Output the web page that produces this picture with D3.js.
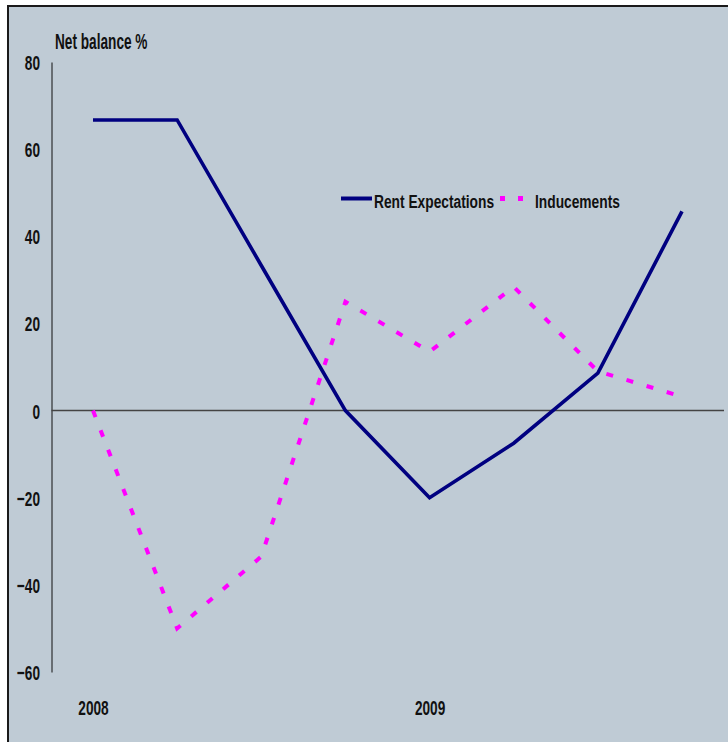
<!DOCTYPE html>
<html><head><meta charset="utf-8">
<script src="https://cdn.jsdelivr.net/npm/d3@7"></script>
<style>
html,body{margin:0;padding:0;background:#fff;}
svg{display:block;}
text{font-family:"Liberation Sans",Arial,sans-serif;font-weight:bold;fill:#111;}
</style></head>
<body>
<svg id="chart" width="728" height="742"></svg>
<script>
const categories = ["Q1 2008","Q2 2008","Q3 2008","Q4 2008","Q1 2009","Q2 2009","Q3 2009","Q4 2009"];
const rentExpectations = [66.7, 66.7, 33.3, 0, -20, -7.5, 8.6, 45.7];
const inducements = [0, -50, -33.5, 25, 13.5, 28.4, 9, 3.2];
const yTicks = [-60, -40, -20, 0, 20, 40, 60, 80];
const xTickLabels = [{cat:"Q1 2008", label:"2008"}, {cat:"Q1 2009", label:"2009"}];
const seriesNames = ["Rent Expectations", "Inducements"];

const SX = 0.65;
const SXL = 0.725;
const svg = d3.select("#chart");

svg.append("rect").attr("x",8).attr("y",6).attr("width",760).attr("height",760)
  .attr("fill","#BFCBD5").attr("stroke","#1a1a1a").attr("stroke-width",2);

const x = d3.scalePoint().domain(categories).range([93, 682]);
const y = d3.scaleLinear().domain([-60, 80]).range([672, 62]);

// y axis
const yAxis = svg.append("g").attr("transform","translate(51.5,0)")
  .call(d3.axisLeft(y).tickValues(yTicks).tickSize(0).tickPadding(11).tickFormat(d3.format("d")));
yAxis.select(".domain").attr("stroke","#111").attr("stroke-width",1);
yAxis.selectAll("text").attr("font-size",21).attr("font-family",null)
  .attr("dy",null).attr("y",0).attr("x",0)
  .attr("transform","translate(-11.5,7.5) scale("+SX+",1)");

// zero line
svg.append("line").attr("x1",51.5).attr("x2",724).attr("y1",y(0)).attr("y2",y(0))
  .attr("stroke","#444").attr("stroke-width",1.5);

// x axis labels
const xAxis = svg.append("g").attr("transform","translate(0,715)")
  .call(d3.axisBottom(x).tickValues(xTickLabels.map(d=>d.cat)).tickSize(0).tickPadding(0)
    .tickFormat(c => xTickLabels.find(d=>d.cat===c).label));
xAxis.select(".domain").remove();
xAxis.selectAll("text").attr("font-size",21).attr("font-family",null)
  .attr("dy",null).attr("y",0).attr("transform","scale("+SX+",1)");

// title
svg.append("text").attr("transform","translate(55,49) scale("+SX+",1.05)")
  .attr("font-size",21).text("Net balance %");

const line = d3.line().x((d,i)=>x(categories[i])).y(d=>y(d));

svg.append("path").datum(inducements).attr("d",line).attr("fill","none")
  .attr("stroke","#FF00FF").attr("stroke-width",4).attr("stroke-dasharray","7,14");
svg.append("path").datum(rentExpectations).attr("d",line).attr("fill","none")
  .attr("stroke","#000080").attr("stroke-width",3.6).attr("stroke-linejoin","miter");

// legend
const lg = svg.append("g");
lg.append("line").attr("x1",341).attr("x2",372).attr("y1",198.5).attr("y2",198.5)
  .attr("stroke","#000080").attr("stroke-width",4);
lg.append("text").attr("transform","translate(374,207.5) scale("+SXL+",1)")
  .attr("font-size",19).text(seriesNames[0]);
lg.append("line").attr("x1",500).attr("x2",524).attr("y1",198.5).attr("y2",198.5)
  .attr("stroke","#FF00FF").attr("stroke-width",5).attr("stroke-dasharray","5,13");
lg.append("text").attr("transform","translate(535,207.5) scale("+SXL+",1)")
  .attr("font-size",19).text(seriesNames[1]);
</script>
</body></html>
